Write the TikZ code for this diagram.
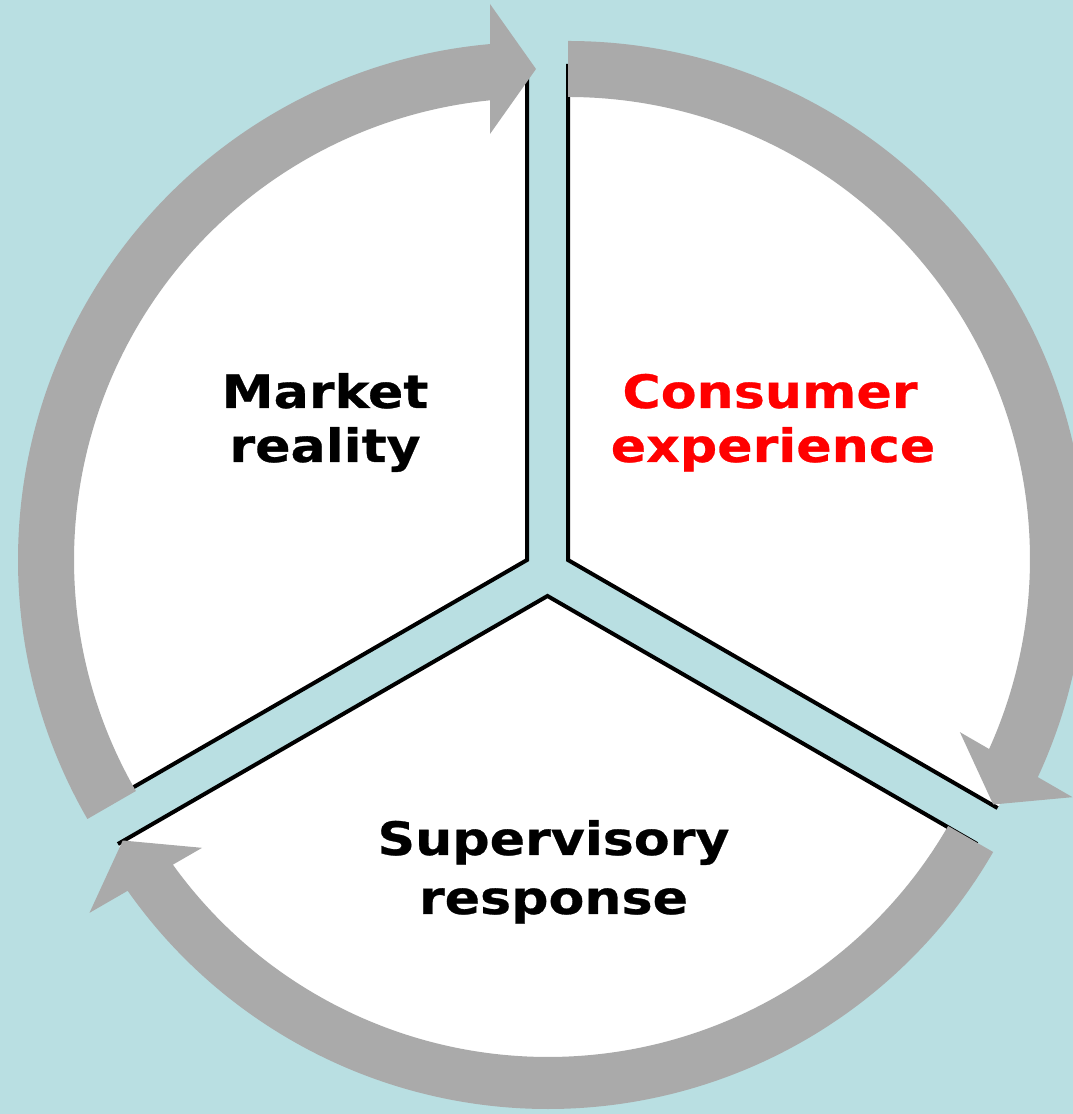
\documentclass[tikz,border=0pt]{standalone}
\usepackage{fontspec}
\setmainfont{DejaVu Sans}
\newfontfamily\lblfont[FakeStretch=1.135, FakeBold=0.6]{DejaVu Sans}
\usetikzlibrary{calc}
\definecolor{bgblue}{HTML}{B9DFE2}
\definecolor{arrgray}{HTML}{AAAAAA}
\definecolor{txtred}{HTML}{FF0000}
\tikzset{
  sectorfill/.style={fill=white},
  sectoredge/.style={draw=black, line width=4pt, line join=miter},
  lbl/.style={font=\lblfont\fontsize{46}{54}\selectfont\bfseries, inner sep=0pt, anchor=base},
}
\newcommand\grayarrow[4]{%
  \begin{scope}[shift={#1}, rotate=#2]
    \fill[arrgray] (210:#3pt) arc[start angle=210, end angle={90+asin(46/#3)}, radius=#3pt]
      -- (-46pt,556pt) -- (0pt,491pt) -- (-46pt,426pt)
      -- ({90+asin(46/#4)}:#4pt) arc[start angle={90+asin(46/#4)}, end angle=210, radius=#4pt]
      -- cycle;
  \end{scope}}
\begin{document}
\begin{tikzpicture}[x=1pt,y=1pt]
  \fill[bgblue] (0,0) rectangle (1073,1114);
  \useasboundingbox (0,0) rectangle (1073,1114);
  % sector vertices
  \coordinate (V1) at (527,554);
  \coordinate (V2) at (568,554);
  \coordinate (V3) at (547.5,518);
  % white sectors
  \fill[sectorfill] (V1) -- ($(V1)+(90:496pt)$) arc[start angle=90, end angle=210, radius=496pt] -- cycle;
  \fill[sectorfill] (V2) -- ($(V2)+(-30:496pt)$) arc[start angle=-30, end angle=90, radius=496pt] -- cycle;
  \fill[sectorfill] (V3) -- ($(V3)+(210:496pt)$) arc[start angle=210, end angle=330, radius=496pt] -- cycle;
  % black straight edges
  \draw[sectoredge] ($(V1)+(90:496pt)$) -- (V1) -- ($(V1)+(210:496pt)$);
  \draw[sectoredge] ($(V2)+(-30:496pt)$) -- (V2) -- ($(V2)+(90:496pt)$);
  \draw[sectoredge] ($(V3)+(210:496pt)$) -- (V3) -- ($(V3)+(330:496pt)$);
  % grey cycle arrows
  \grayarrow{(536,554)}{0}{518}{462}
  \grayarrow{(568,555)}{-120}{518}{462}
  \grayarrow{(548,519)}{-240}{514}{462}
  % labels
  \node[lbl] (mr1) at (325,706) {Market};
  \node[lbl] (mr2) at (325,652) {reality};
  \node[lbl, text=txtred] (ce1) at (770,706) {Consumer};
  \node[lbl, text=txtred] (ce2) at (773,652) {experience};
  \node[lbl] (sr1) at (553.5,259) {Supervisory};
  \node[lbl] (sr2) at (553.5,200) {response};
\end{tikzpicture}
\end{document}
